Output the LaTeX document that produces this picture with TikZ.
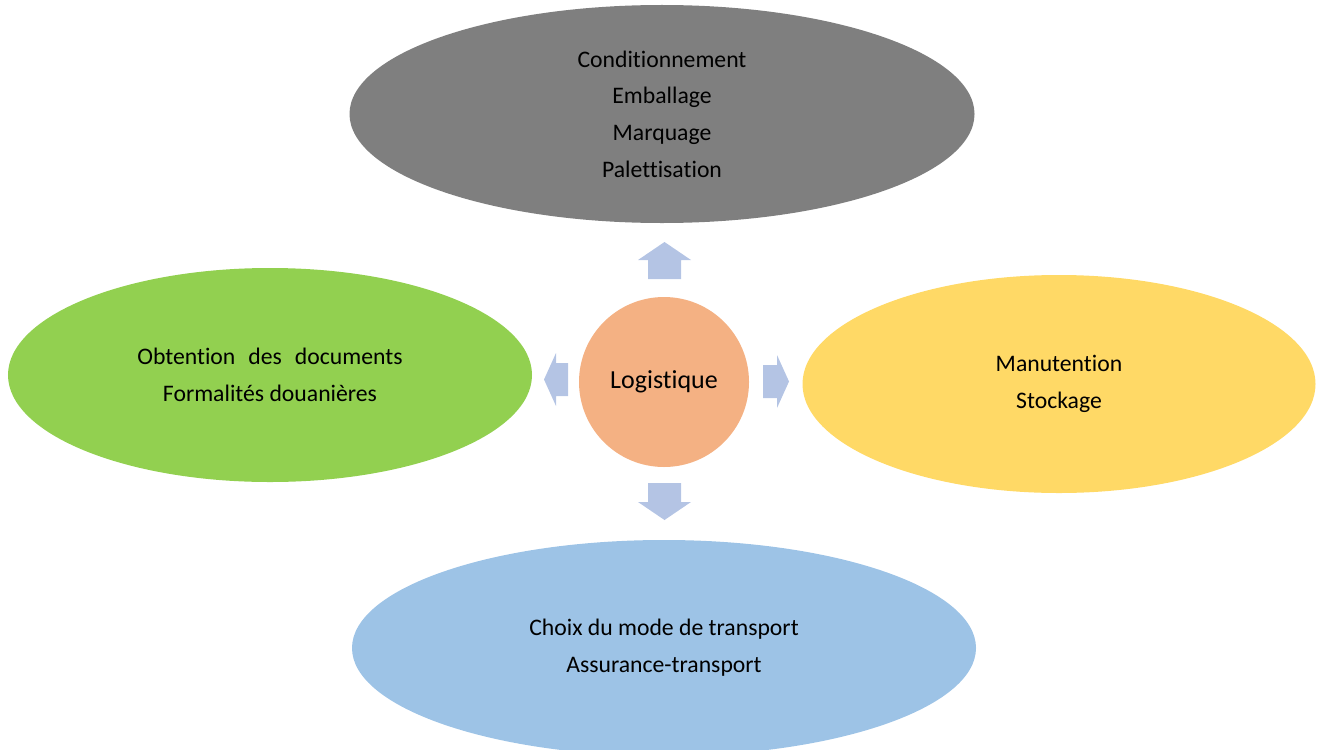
\documentclass[tikz,border=0pt]{standalone}
\usepackage{fontspec}
\setmainfont{Carlito}[Ligatures={NoCommon,NoRare}]
\usetikzlibrary{shapes.geometric}
\definecolor{boxgray}{HTML}{7F7F7F}
\definecolor{boxgreen}{HTML}{92D050}
\definecolor{boxyellow}{HTML}{FFD966}
\definecolor{boxblue}{HTML}{9DC3E6}
\definecolor{hubsalmon}{HTML}{F4B183}
\definecolor{arrowblue}{HTML}{B4C4E4}
\tikzset{
  topic/.style={ellipse, draw=none, inner sep=0pt, align=center,
    font=\fontsize{23.7bp}{36.7bp}\selectfont},
  hub/.style={circle, draw=none, fill=hubsalmon, inner sep=0pt,
    minimum size=170bp, font=\fontsize{26bp}{30bp}\selectfont},
  blockarrow/.style={fill=arrowblue, draw=none}
}
\begin{document}
\begin{tikzpicture}[x=1bp, y=-1bp]
\useasboundingbox (0,0) rectangle (1320,749);
\clip (0,0) rectangle (1320,749);

% outer topics
\node[topic, fill=boxgray, minimum width=625bp, minimum height=218bp] (pack) at (662,114)
  {Conditionnement\\Emballage\\Marquage\\Palettisation};
\node[topic, fill=boxgreen, minimum width=524bp, minimum height=214bp] (docs) at (270,375)
  {Obtention\hspace{0.55em}des\hspace{0.55em}documents\\Formalités douanières};
\node[topic, fill=boxyellow, minimum width=513bp, minimum height=218bp] (store) at (1059,384)
  {Manutention\\Stockage};
\node[topic, fill=boxblue, minimum width=624bp, minimum height=216bp] (ship) at (664,648)
  {Choix du mode de transport\\Assurance-transport};

% central hub
\node[hub] (hub) at (664,382) {Logistique};

% block arrows from the hub towards each topic
\coordinate (up)    at (664.5,279);
\coordinate (down)  at (664.5,483);
\coordinate (left)  at (568,379.5);
\coordinate (right) at (763,381.5);

\fill[blockarrow] (up) ++(-16.5,0) -- ++(0,-19) -- ++(-10,0) -- ++(26.5,-18)
  -- ++(26.5,18) -- ++(-10,0) -- ++(0,19) -- cycle;
\fill[blockarrow] (down) ++(-16.5,0) -- ++(0,19) -- ++(-10,0) -- ++(26.5,18)
  -- ++(26.5,-18) -- ++(-10,0) -- ++(0,-19) -- cycle;
\fill[blockarrow] (left) ++(0,-16.5) -- ++(-12,0) -- ++(0,-10) -- ++(-12,26.5)
  -- ++(12,26.5) -- ++(0,-10) -- ++(12,0) -- cycle;
\fill[blockarrow] (right) ++(0,-16.5) -- ++(14,0) -- ++(0,-10) -- ++(12,26.5)
  -- ++(-12,26.5) -- ++(0,-10) -- ++(-14,0) -- cycle;
\end{tikzpicture}
\end{document}
